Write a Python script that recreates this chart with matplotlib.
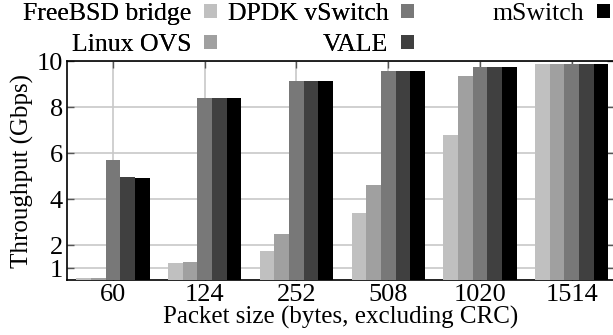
import numpy as np
import matplotlib
matplotlib.use("Agg")
import matplotlib.pyplot as plt
from matplotlib.patches import Patch

plt.rcParams['font.family'] = ['Liberation Serif', 'DejaVu Serif']
plt.rcParams['font.size'] = 18

packet_sizes = ["60", "124", "252", "508", "1020", "1514"]
series_names = ["FreeBSD bridge", "Linux OVS", "DPDK vSwitch", "VALE", "mSwitch"]
freebsd = [0.6, 1.23, 1.75, 3.39, 6.80, 9.87]
linux_ovs = [0.6, 1.27, 2.48, 4.64, 9.33, 9.87]
dpdk = [5.72, 8.38, 9.13, 9.57, 9.74, 9.87]
vale = [4.98, 8.38, 9.13, 9.57, 9.74, 9.87]
mswitch = [4.94, 8.38, 9.13, 9.57, 9.74, 9.87]
y_ticks = [1, 2, 4, 6, 8, 10]

series = [freebsd, linux_ovs, dpdk, vale, mswitch]
colors = ["#c0c0c0", "#a0a0a0", "#787878", "#404040", "#000000"]

W, H = 613, 335
fig = plt.figure(figsize=(W / 100, H / 100), dpi=100)
ax = fig.add_axes([67 / W, 1 - 280 / H, (614 - 67) / W, (280 - 61) / H])

x = np.arange(len(packet_sizes))
bw = 0.16
for i, (vals, c) in enumerate(zip(series, colors)):
    ax.bar(x + (i - 2) * bw, vals, width=bw, color=c, edgecolor="none", zorder=3)

ax.set_xlim(-0.5, 5.46)
ax.set_ylim(0.5, 10)
ax.set_xticks(x)
ax.set_xticklabels(packet_sizes)
ax.set_yticks(y_ticks)
ax.set_yticklabels([str(t) for t in y_ticks])

ax.grid(True, color="#c8c8c8", linewidth=1.2, zorder=0)
ax.set_axisbelow(True)
ax.tick_params(direction="in", length=5, width=1, top=True, right=True,
               color="#555555", pad=3, labelsize=19)
for s in ax.spines.values():
    s.set_linewidth(1.2)
    s.set_color("black")

ax.set_xlabel("Packet size (bytes, excluding CRC)", fontsize=18, labelpad=0)
ax.set_ylabel("Throughput (Gbps)", fontsize=18, labelpad=2)

handles = [Patch(facecolor=c, edgecolor="none") for c in colors]
legend_kw = dict(markerfirst=False, frameon=False, loc="upper right",
                 handlelength=0.5, handleheight=0.5, handletextpad=0.5,
                 borderpad=0, borderaxespad=0, fontsize=18.5)
leg1 = fig.legend(handles[:4], series_names[:4], ncol=2,
                  bbox_to_anchor=(414 / W, 1 - 3 / H),
                  columnspacing=0.4, labelspacing=0.35, **legend_kw)
fig.add_artist(leg1)
leg2 = fig.legend(handles[4:], series_names[4:], ncol=1,
                  bbox_to_anchor=(610 / W, 1 - 3 / H), **legend_kw)

fig.savefig("out.png", dpi=100)
